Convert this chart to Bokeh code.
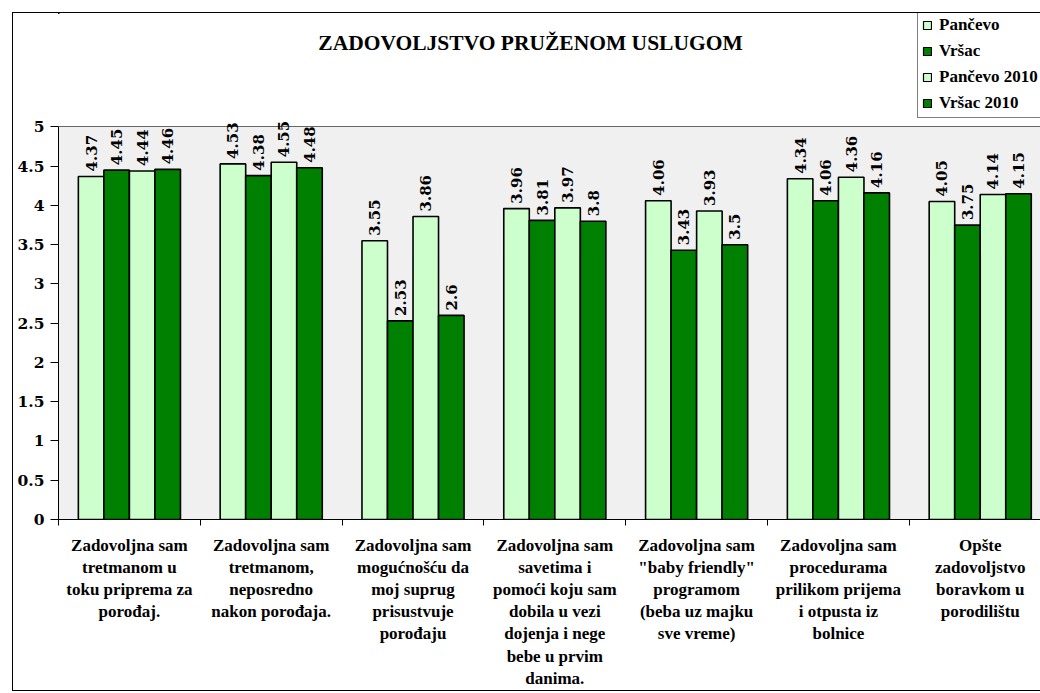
from bokeh.plotting import figure
from bokeh.layouts import column
from bokeh.models import (ColumnDataSource, Range1d, FixedTicker, CustomJSTickFormatter,
                          Legend, LegendItem, LabelSet, Label, BoxAnnotation)
from bokeh.transform import dodge
from bokeh.core.properties import value
from bokeh.embed import file_html
from bokeh.resources import INLINE

title_text = "ZADOVOLJSTVO PRUŽENOM USLUGOM"

categories = [
    "Zadovoljna sam\ntretmanom u\ntoku priprema za\nporođaj.",
    "Zadovoljna sam\ntretmanom,\nneposredno\nnakon porođaja.",
    "Zadovoljna sam\nmogućnošću da\nmoj suprug\nprisustvuje\nporođaju",
    "Zadovoljna sam\nsavetima i\npomoći koju sam\ndobila u vezi\ndojenja i nege\nbebe u prvim\ndanima.",
    "Zadovoljna sam\n\"baby friendly\"\nprogramom\n(beba uz majku\nsve vreme)",
    "Zadovoljna sam\nprocedurama\nprilikom prijema\ni otpusta iz\nbolnice",
    "Opšte\nzadovoljstvo\nboravkom u\nporodilištu",
]

series_names = ["Pančevo", "Vršac", "Pančevo 2010", "Vršac 2010"]
pancevo = [4.37, 4.53, 3.55, 3.96, 4.06, 4.34, 4.05]
vrsac = [4.45, 4.38, 2.53, 3.81, 3.43, 4.06, 3.75]
pancevo_2010 = [4.44, 4.55, 3.86, 3.97, 3.93, 4.36, 4.14]
vrsac_2010 = [4.46, 4.48, 2.6, 3.8, 3.5, 4.16, 4.15]
series_values = [pancevo, vrsac, pancevo_2010, vrsac_2010]

y_ticks = [0, 0.5, 1, 1.5, 2, 2.5, 3, 3.5, 4, 4.5, 5]
y_min, y_max = 0, 5

colors = ["#CCFFCC", "#008000", "#CCFFCC", "#008000"]
offsets = [-0.27, -0.09, 0.09, 0.27]
bar_width = 0.18

idx = list(range(len(categories)))
sources = [ColumnDataSource(dict(idx=idx, val=vals, lbl=[f"{v:g}" for v in vals]))
           for vals in series_values]

# ---------------- header (title + legend) ----------------
h = figure(width=1027, height=105, x_range=Range1d(58, 1040), y_range=Range1d(118, 13),
           output_backend="svg", toolbar_location=None,
           x_axis_type=None, y_axis_type=None,
           min_border_left=0, min_border_right=0, min_border_top=0, min_border_bottom=0,
           outline_line_color=None, background_fill_color="white", border_fill_color="white")
h.xgrid.visible = False
h.ygrid.visible = False

h.add_layout(Label(x=530, y=42, text=title_text, text_align="center", text_baseline="middle",
                   text_font="Liberation Serif", text_font_style="bold",
                   text_font_size="21.5px", text_color="black"))

# legend proxies: same data, lying outside this header's visible ranges
legend_renderers = []
for src, col, off in zip(sources, colors, offsets):
    legend_renderers.append(h.vbar(x=dodge("idx", off), top="val", width=bar_width, source=src,
                                   fill_color=col, line_color="black", line_width=1.2))

legend = Legend(items=[LegendItem(label=n, renderers=[r]) for n, r in zip(series_names, legend_renderers)],
                location=(859, 0), orientation="vertical",
                border_line_color="black", border_line_width=1,
                background_fill_color="white", background_fill_alpha=1,
                label_text_font="Liberation Serif", label_text_font_style="bold",
                label_text_font_size="17px", label_text_color="black",
                glyph_width=10, glyph_height=10,
                label_height=20, label_width=108, spacing=6, padding=4, label_standoff=7, margin=0)
h.add_layout(legend)

# ---------------- main chart ----------------
p = figure(width=1027, height=572,
           x_range=Range1d(-0.5, 6.425), y_range=Range1d(0, 5.108),
           output_backend="svg", toolbar_location=None,
           min_border_left=45, min_border_right=0, min_border_top=0, min_border_bottom=171,
           background_fill_color="white", border_fill_color="white",
           outline_line_color=None)

# grey plot area (value axis extent 0..5)
p.add_layout(BoxAnnotation(bottom=y_min, top=y_max, fill_color="#F0F0F0", fill_alpha=1,
                           line_color=None, level="underlay"))

for name, src, col, off in zip(series_names, sources, colors, offsets):
    p.vbar(x=dodge("idx", off), top="val", width=bar_width, source=src,
           fill_color=col, line_color="black", line_width=1.6)
    p.add_layout(LabelSet(x=dodge("idx", off), y="val", text="lbl", source=src,
                          angle=1.5707963, text_align="left", text_baseline="middle",
                          y_offset=5, text_font=value("DejaVu Serif"), text_font_style="bold",
                          text_font_size="15px", text_color="black"))

p.yaxis.ticker = FixedTicker(ticks=y_ticks)
p.yaxis.bounds = (y_min, y_max)
p.yaxis.formatter = CustomJSTickFormatter(code="return tick.toString();")
p.yaxis.major_tick_out = 8
p.yaxis.major_tick_in = 0
p.yaxis.minor_tick_line_color = None
p.yaxis.major_label_standoff = 6
p.yaxis.axis_line_color = "black"
p.yaxis.major_tick_line_color = "black"
p.yaxis.major_label_text_font = "DejaVu Serif"
p.yaxis.major_label_text_font_style = "bold"
p.yaxis.major_label_text_font_size = "15.5px"
p.yaxis.major_label_text_color = "black"

p.xaxis.ticker = FixedTicker(ticks=idx, minor_ticks=[i - 0.5 for i in range(len(categories) + 1)])
p.xaxis.major_label_overrides = {i: c for i, c in zip(idx, categories)}
p.xaxis.major_tick_out = 0
p.xaxis.major_tick_in = 0
p.xaxis.major_tick_line_color = None
p.xaxis.minor_tick_out = 6
p.xaxis.minor_tick_in = 0
p.xaxis.minor_tick_line_color = "black"
p.xaxis.axis_line_color = "black"
p.xaxis.major_label_standoff = 10
p.xaxis.major_label_text_font = "Liberation Serif"
p.xaxis.major_label_text_font_style = "bold"
p.xaxis.major_label_text_font_size = "17px"
p.xaxis.major_label_text_line_height = 1.17
p.xaxis.major_label_text_color = "black"

p.xgrid.visible = False
p.ygrid.grid_line_color = "#666666"
p.ygrid.grid_line_width = 1
p.ygrid.bounds = (y_min, y_max)

layout = column(h, p, spacing=0,
                styles={"margin-left": "12px", "margin-top": "12px",
                        "border-left": "1px solid black", "border-top": "1px solid black",
                        "border-bottom": "1px solid black"})

open("out.html", "w").write(file_html(layout, INLINE))
